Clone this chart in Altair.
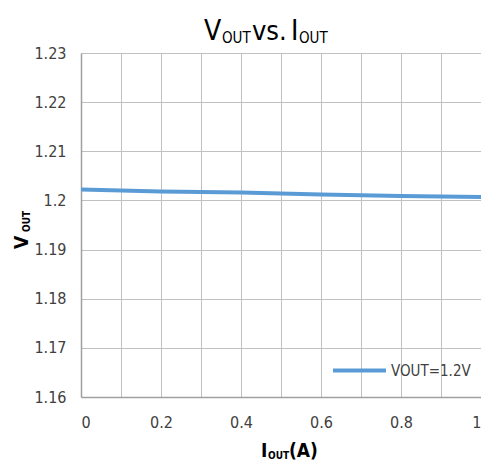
import altair as alt
import pandas as pd

iout = [0.0, 0.2, 0.4, 0.6, 0.8, 1.0]
vout = [1.2022, 1.2018, 1.2016, 1.2012, 1.2009, 1.2007]
series = ["VOUT=1.2V"] * len(iout)
x_grid = [0, 0.1, 0.2, 0.3, 0.4, 0.5, 0.6, 0.7, 0.8, 0.9, 1.0]
y_ticks = [1.16, 1.17, 1.18, 1.19, 1.20, 1.21, 1.22, 1.23]

df = pd.DataFrame({"iout": iout, "vout": vout, "series": series})

FONT = "DejaVu Sans Condensed"
TXT = "#404040"

base = alt.Chart(df)

line = base.mark_line(strokeWidth=4, color="#5B9BD5").encode(
    x=alt.X("iout:Q", scale=alt.Scale(domain=[0, 1], nice=False, zero=False),
            axis=alt.Axis(values=x_grid, title=None, format="~g",
                          labelExpr="round(datum.value*10) % 2 == 0 ? datum.label : ''",
                          grid=True, gridColor="#c0c0c0", gridWidth=1,
                          domainColor="#a0a0a0", domainWidth=1.5, ticks=False,
                          labelFont=FONT, labelFontSize=16, labelColor=TXT,
                          labelPadding=17, labelBound=False)),
    y=alt.Y("vout:Q", scale=alt.Scale(domain=[1.16, 1.23], nice=False, zero=False),
            axis=alt.Axis(values=y_ticks, title=None, format="~g",
                          grid=True, gridColor="#c0c0c0", gridWidth=1,
                          domainColor="#a0a0a0", domainWidth=1.5, ticks=False,
                          labelFont=FONT, labelFontSize=16, labelColor=TXT,
                          labelPadding=15)),
    color=alt.Color("series:N", scale=alt.Scale(range=["#5B9BD5"]),
                    legend=alt.Legend(title=None, orient="none", legendX=250, legendY=289,
                                      symbolType="stroke", symbolSize=2809,
                                      symbolStrokeWidth=4, labelFont=FONT,
                                      labelFontSize=15, labelColor=TXT,
                                      labelOffset=3, padding=0)),
)

def txt(s, x, y, size, weight="normal", angle=0):
    kw = dict(text=s, font=FONT, fontSize=size, fontWeight=weight, align="left",
              baseline="alphabetic", color="#000000")
    if angle:
        kw["angle"] = angle
    return alt.Chart(df.head(1)).mark_text(**kw).encode(x=alt.value(x), y=alt.value(y))

# plot-area origin sits at page (81, 53)
title_parts = [
    txt("V", 123, -13, 28),
    txt("OUT", 141, -10, 15),
    txt("vs.", 171, -13, 27),
    txt("I", 210, -13, 28),
    txt("OUT", 218, -10, 15),
]
xtitle_parts = [
    txt("I", 180, 404, 19, "bold"),
    txt("OUT", 187, 406, 10, "bold"),
    txt("(A)", 208, 404, 19, "bold"),
]
ytitle_parts = [
    txt("V", -53, 196, 19, "bold", 270),
    txt("OUT", -51, 179, 10, "bold", 270),
]

chart = alt.layer(line, *title_parts, *xtitle_parts, *ytitle_parts).properties(
    width=400, height=344,
    padding={"left": 73, "top": 45, "right": 0, "bottom": 65},
    autosize=alt.AutoSizeParams(type="none"),
).configure_view(stroke=None)

chart.save("out.html", embed_options={"renderer": "svg", "actions": False})
